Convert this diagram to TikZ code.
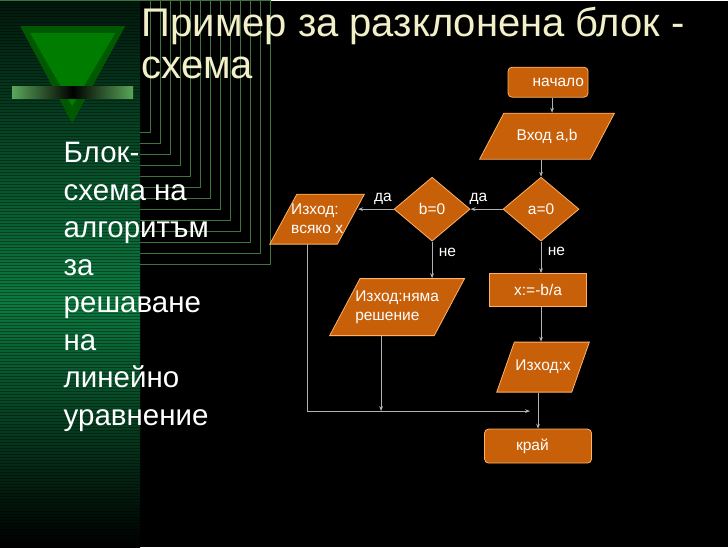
\documentclass[tikz,border=0pt]{standalone}
\usepackage{fontspec}
\setmainfont{Liberation Sans}
\usetikzlibrary{shapes.geometric,arrows.meta,positioning}
\definecolor{blockfill}{HTML}{C8600A}
\definecolor{titlecol}{HTML}{F2F0C8}
\definecolor{stripegreen}{HTML}{0B7A40}
\tikzset{
  blockbase/.style={fill=blockfill, draw=orange!60!white, text=white, font=\fontsize{15.5}{19}\selectfont, line width=0.8pt},
  startend/.style={blockbase, rounded corners=4pt, minimum height=30pt},
  iobox/.style={blockbase, trapezium, trapezium left angle=50, trapezium right angle=130, trapezium stretches=true, align=left, inner xsep=-6pt, inner ysep=1pt},
  decide/.style={blockbase, diamond, minimum width=76pt, minimum height=64pt, inner sep=0pt},
  procbox/.style={blockbase, minimum width=97pt, minimum height=33pt},
  flow/.style={draw=gray!60, line width=0.8pt, -{Stealth[length=5pt]}},
  tag/.style={text=white, font=\fontsize{15.5}{19}\selectfont}
}
\begin{document}
\begin{tikzpicture}[x=1pt, y=-1pt]
  % background
  \fill[black] (0,0) rectangle (728,546);
  \foreach \i in {1,...,13} {
    \draw[green!30!gray!70!black, line width=0.4pt] (0,-1) rectangle (140+\i*10, 120+\i*11);
  }
  \shade[top color=black!80!stripegreen, bottom color=stripegreen] (0,0) rectangle (140,300);
  \shade[top color=stripegreen, bottom color=black] (0,300) rectangle (140,546);
  \foreach \i in {0,3,...,540} {
    \draw[black, opacity=0.35, line width=0.4pt] (0,\i) -- (140,\i);
  }
  % logo
  \fill[green!35!black] (20,25) -- (125,25) -- (72,122) -- cycle;
  \fill[green!55!black, opacity=0.7] (30,32) -- (115,32) -- (72,105) -- cycle;
  \shade[left color=green!30!gray, right color=green!30!gray, middle color=black] (12,85) rectangle (133,97);

  % title and side text
  \node[anchor=north west, text=titlecol, align=left, font=\fontsize{40}{42}\selectfont] (title) at (138,2)
    {Пример за разклонена блок -\\схема};
  \node[anchor=north west, text=white, align=left, font=\fontsize{29.5}{37.5}\selectfont] (side) at (60,138)
    {Блок-\\схема на\\алгоритъм\\за\\решаване\\на\\линейно\\уравнение};

  % flowchart
  \node[startend, minimum width=80pt, align=right, text width=72pt] (begin) at (548,81) {начало};
  \node[iobox, minimum width=135pt, minimum height=46pt] (input) at (547,135) {Вход a,b};
  \node[decide] (testa) at (541,208) {a=0};
  \node[decide] (testb) at (432,208) {b=0};
  \node[iobox, minimum width=95pt, minimum height=50pt] (anyx) at (317,218) {Изход:\\всяко x};
  \node[iobox, minimum width=135pt, minimum height=57pt] (nosol) at (397,306) {Изход:няма\\решение};
  \node[procbox] (calc) at (538,289) {x:=-b/a};
  \node[iobox, minimum width=93pt, minimum height=50pt] (outx) at (543,366) {Изход:x};
  \node[startend, minimum width=107pt, minimum height=34pt, align=left, text width=80pt] (finish) at (538,445) {\hspace*{18pt}край};

  \coordinate (join) at (538,410);
  \coordinate (anyxin) at (358,208);
  \draw[flow] (begin.south -| input.north) ++(5,0) coordinate (b0) -- (b0 |- input.north);
  \draw[flow] (input.south -| testa.north) -- (testa.north);
  \draw[flow] (testa.west) -- node[tag, above=1pt, pos=0.75] {да} (testb.east);
  \draw[flow] (testb.west) -- node[tag, above=1pt, pos=0.3] {да} (anyxin);
  \draw[flow] (testb.south) -- node[tag, right=3pt, pos=0.3] {не} (testb.south |- nosol.north);
  \draw[flow] (testa.south) -- node[tag, right=3pt, pos=0.3] {не} (testa.south |- calc.north);
  \draw[flow] (calc.south -| testa.south) -- (outx.north -| testa.south);
  \draw[flow] (307,243) -- (307,410) -- ([xshift=-8pt]join);
  \draw[flow] (nosol.south -| 381,0) -- (381,410);
  \draw[flow] (outx.south -| join) -- (finish.north -| join);
\end{tikzpicture}
\end{document}
